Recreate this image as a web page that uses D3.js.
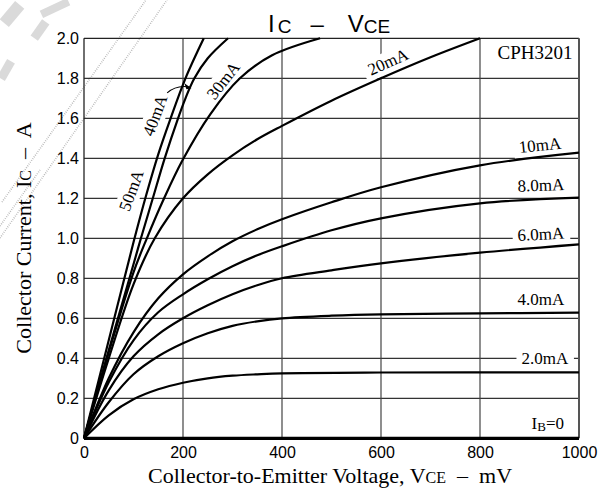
<!DOCTYPE html>
<html>
<head>
<meta charset="utf-8">
<script src="https://cdn.jsdelivr.net/npm/d3@7"></script>
<style>
  html, body { margin: 0; padding: 0; background: #fff; }
  svg { display: block; }
</style>
</head>
<body>
<svg id="chart" width="606" height="491"></svg>
<script>
// Axis ticks
const vceTicks = [0, 200, 400, 600, 800, 1000];
const icTicks = [0, 0.2, 0.4, 0.6, 0.8, 1.0, 1.2, 1.4, 1.6, 1.8, 2.0];

// IC (A) versus VCE (mV), one array per base current
const ib50 = [[0,0],[50,0.49],[100,0.98],[125,1.21],[150,1.42],[175,1.6],[205,1.8],[242,2.0]];
const ib40 = [[0,0],[50,0.44],[100,0.87],[115,1.0],[139,1.2],[163,1.4],[190,1.6],[205,1.7],[223,1.8],[250,1.9],[291,2.0]];
const ib30 = [[0,0],[50,0.43],[100,0.83],[127,1.0],[160,1.19],[199,1.39],[255,1.62],[315,1.8],[380,1.915],[477,2.0]];
const ib20 = [[0,0],[50,0.4],[100,0.77],[143,1.0],[200,1.2],[250,1.32],[300,1.415],[350,1.495],[400,1.562],[500,1.688],[600,1.8],[700,1.905],[800,2.0]];
const ib10 = [[0,0],[50,0.3],[100,0.53],[150,0.7],[200,0.82],[250,0.91],[300,0.985],[350,1.045],[400,1.095],[500,1.18],[600,1.255],[800,1.365],[1000,1.428]];
const ib8 = [[0,0],[50,0.28],[100,0.49],[150,0.63],[200,0.72],[250,0.795],[300,0.86],[350,0.915],[400,0.96],[500,1.04],[600,1.1],[800,1.175],[1000,1.203]];
const ib6 = [[0,0],[50,0.24],[100,0.41],[150,0.52],[200,0.6],[250,0.665],[300,0.72],[350,0.765],[400,0.8],[500,0.84],[600,0.875],[800,0.928],[1000,0.97]];
const ib4 = [[0,0],[50,0.18],[100,0.32],[150,0.41],[200,0.475],[250,0.525],[300,0.562],[350,0.585],[400,0.6],[500,0.613],[600,0.62],[800,0.625],[1000,0.628]];
const ib2 = [[0,0],[50,0.115],[100,0.195],[150,0.245],[200,0.278],[250,0.3],[300,0.313],[350,0.32],[400,0.325],[600,0.329],[1000,0.33]];
const ib0 = [[0,0],[1000,0]];

const curves = [ib50, ib40, ib30, ib20, ib10, ib8, ib6, ib4, ib2, ib0];

// Curve labels: text, anchor point (mV, A), rotation in degrees
const curveLabels = [
  { text: "50mA",  v: 95,  i: 1.24,  rot: -70 },
  { text: "40mA",  v: 143, i: 1.615, rot: -70 },
  { text: "30mA",  v: 281, i: 1.79,  rot: -52 },
  { text: "20mA",  v: 614, i: 1.883, rot: -24 },
  { text: "10mA",  v: 921, i: 1.467, rot: -6 },
  { text: "8.0mA", v: 923, i: 1.267, rot: -2 },
  { text: "6.0mA", v: 923, i: 1.022, rot: -3 },
  { text: "4.0mA", v: 923, i: 0.697, rot: 0 },
  { text: "2.0mA", v: 931, i: 0.402, rot: 0 }
];

const svg = d3.select("#chart");
const W = 606, H = 491;
const m = { left: 84, right: 27, top: 38.3, bottom: 52.7 };

const x = d3.scaleLinear().domain([0, 1000]).range([m.left, W - m.right]);
const y = d3.scaleLinear().domain([0, 2]).range([H - m.bottom, m.top]);

const sans = "'Liberation Sans', Arial, Helvetica, sans-serif";
const serif = "'Liberation Serif', 'Times New Roman', Times, serif";

// faint speckle marks in the upper-left margin
const speckle = svg.append("g").attr("fill", "none");
[[[0, 238], [167, 0]], [[2, 202], [146, 0]], [[0, 226], [40, 170]]].forEach(s => {
  speckle.append("line").attr("x1", s[0][0]).attr("y1", s[0][1])
    .attr("x2", s[1][0]).attr("y2", s[1][1])
    .attr("stroke", "#b4b4b4").attr("stroke-width", 1.6).attr("stroke-dasharray", "0.8 1.4");
});
[[12, 14, 24, 12, -50], [40, 30, 20, 9, -55], [6, 70, 20, 9, -60], [55, 8, 30, 8, -25]].forEach(b => {
  speckle.append("rect").attr("x", -b[2] / 2).attr("y", -b[3] / 2)
    .attr("width", b[2]).attr("height", b[3])
    .attr("transform", `translate(${b[0]},${b[1]}) rotate(${b[4]})`)
    .attr("fill", "#dadada");
});

// grid
const grid = svg.append("g");
grid.selectAll("line.h").data(icTicks.filter(d => d > 0 && d < 2)).enter().append("line")
  .attr("x1", x(0)).attr("x2", x(1000))
  .attr("y1", d => y(d)).attr("y2", d => y(d))
  .attr("stroke", "#333").attr("stroke-width", 1.2);
grid.selectAll("line.v").data(vceTicks.filter(d => d > 0 && d < 1000)).enter().append("line")
  .attr("x1", d => x(d)).attr("x2", d => x(d))
  .attr("y1", y(0)).attr("y2", y(2))
  .attr("stroke", "#444").attr("stroke-width", 1.2);

// frame
svg.append("line").attr("x1", x(0)).attr("x2", x(1000)).attr("y1", y(2)).attr("y2", y(2))
  .attr("stroke", "#222").attr("stroke-width", 1.3);
svg.append("line").attr("x1", x(0)).attr("x2", x(0)).attr("y1", y(0)).attr("y2", y(2))
  .attr("stroke", "#222").attr("stroke-width", 1.3);
svg.append("line").attr("x1", x(1000)).attr("x2", x(1000)).attr("y1", y(0)).attr("y2", y(2))
  .attr("stroke", "#555").attr("stroke-width", 2);

// white knock-outs behind curve labels
const labelFont = 17;
const lblG = svg.append("g");
curveLabels.forEach(l => {
  const g = lblG.append("g")
    .attr("transform", `translate(${x(l.v)},${y(l.i)}) rotate(${l.rot})`);
  const t = g.append("text").text(l.text)
    .attr("font-family", serif).attr("font-size", labelFont)
    .attr("text-anchor", "middle").attr("dy", "0.35em").attr("fill", "#000");
  const bb = t.node().getBBox();
  g.insert("rect", "text")
    .attr("x", bb.x - 5).attr("y", bb.y - 1)
    .attr("width", bb.width + 10).attr("height", bb.height + 2)
    .attr("fill", "#fff");
  l.node = g;
});

// curves
const line = d3.line().x(d => x(d[0])).y(d => y(d[1])).curve(d3.curveCatmullRom.alpha(0.5));
svg.append("g").selectAll("path").data(curves).enter().append("path")
  .attr("d", line)
  .attr("fill", "none").attr("stroke", "#000")
  .attr("stroke-width", (d, k) => k === curves.length - 1 ? 3.2 : 2.2)
  .attr("stroke-linejoin", "round");

// label texts on top of curves
curveLabels.forEach(l => l.node.raise());

// arrow from the 40mA label to its curve
const arrowPts = [[168, 1.727], [188, 1.77], [215, 1.755]];
svg.append("path")
  .attr("d", `M${x(arrowPts[0][0])},${y(arrowPts[0][1])} Q${x(arrowPts[1][0])},${y(arrowPts[1][1])} ${x(arrowPts[2][0])},${y(arrowPts[2][1])}`)
  .attr("fill", "none").attr("stroke", "#000").attr("stroke-width", 1.1);
{
  const tx = x(arrowPts[2][0]) + 1, ty = y(arrowPts[2][1]) + 1;
  svg.append("path")
    .attr("d", `M${tx},${ty} L${tx - 7},${ty - 5} L${tx - 5},${ty + 1} Z`)
    .attr("fill", "#000");
}

// part number and IB=0
svg.append("text").attr("x", x(911)).attr("y", y(1.93)).attr("dy", "0.35em")
  .attr("text-anchor", "middle").attr("font-family", serif).attr("font-size", 19)
  .text("CPH3201");
const ib0Lbl = svg.append("text").attr("x", x(937)).attr("y", y(0.077)).attr("dy", "0.35em")
  .attr("text-anchor", "middle").attr("font-family", serif).attr("font-size", 17);
ib0Lbl.append("tspan").text("I");
ib0Lbl.append("tspan").attr("font-size", 13).attr("dy", 2).text("B");
ib0Lbl.append("tspan").attr("dy", -2).text("=0");

// axes tick labels
const yAxis = d3.axisLeft(y).tickValues(icTicks).tickSize(0).tickPadding(5)
  .tickFormat(d => d === 0 ? "0" : d.toFixed(1));
const gy = svg.append("g").attr("transform", `translate(${m.left},0)`).call(yAxis);
gy.select(".domain").remove();
gy.selectAll("text").attr("font-family", sans).attr("font-size", 16).attr("fill", "#000");

const xAxis = d3.axisBottom(x).tickValues(vceTicks).tickSize(0).tickPadding(8)
  .tickFormat(d3.format("d"));
const gx = svg.append("g").attr("transform", `translate(0,${y(0)})`).call(xAxis);
gx.select(".domain").remove();
gx.selectAll("text").attr("font-family", sans).attr("font-size", 16).attr("fill", "#000");

// axis titles
const xt = svg.append("text").attr("x", 330).attr("y", 483).attr("text-anchor", "middle")
  .attr("font-family", serif).attr("font-size", 22).attr("fill", "#000");
xt.append("tspan").text("Collector-to-Emitter Voltage, V");
xt.append("tspan").attr("font-size", 16).text("CE");
xt.append("tspan").attr("xml:space", "preserve").text("  \u2013  mV");

const yt = svg.append("text").attr("transform", `translate(31,238) rotate(-90)`)
  .attr("text-anchor", "middle").attr("font-family", serif).attr("font-size", 22).attr("fill", "#000");
yt.append("tspan").text("Collector Current, I");
yt.append("tspan").attr("font-size", 16).text("C");
yt.append("tspan").attr("xml:space", "preserve").text("  \u2013  A");

// title
const tt = svg.append("text").attr("x", 268).attr("y", 32).attr("text-anchor", "start")
  .attr("font-family", sans).attr("font-size", 24).attr("fill", "#000");
tt.append("tspan").text("I");
tt.append("tspan").attr("font-size", 19).attr("dx", 3).attr("dy", 1).text("C");
tt.append("tspan").attr("dx", 19).attr("dy", -1).text("\u2013");
tt.append("tspan").attr("dx", 24).text("V");
tt.append("tspan").attr("font-size", 19).attr("dy", 1).text("CE");
</script>
</body>
</html>
